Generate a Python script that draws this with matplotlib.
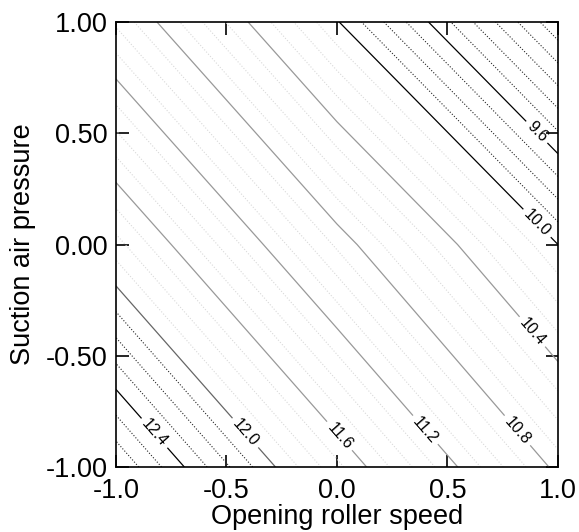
import numpy as np
import matplotlib.pyplot as plt

# response surface at coded levels -1, 0, 1
speed = [-1.0, 0.0, 1.0]
pressure = [-1.0, 0.0, 1.0]
response = [[12.70, 11.73, 10.76],   # pressure = -1
            [11.84, 10.88, 10.00],   # pressure = 0
            [10.98, 10.01, 9.02]]    # pressure = 1

major_levels = [9.6, 10.0, 10.4, 10.8, 11.2, 11.6, 12.0, 12.4]
minor_levels = [9.1, 9.2, 9.3, 9.4, 9.5, 9.7, 9.8, 9.9,
                10.1, 10.2, 10.3, 10.5, 10.6, 10.7, 10.9, 11.0, 11.1,
                11.3, 11.4, 11.5, 11.7, 11.8, 11.9, 12.1, 12.2, 12.3,
                12.5, 12.6]

xticks = [-1.0, -0.5, 0.0, 0.5, 1.0]
yticks = [-1.0, -0.5, 0.0, 0.5, 1.0]

# where the contour labels sit
label_pos = [(0.94, 0.54), (0.92, 0.11), (0.91, -0.37), (0.87, -0.79),
             (0.45, -0.79), (0.07, -0.81), (-0.35, -0.79), (-0.76, -0.79)]

plt.rcParams['font.family'] = ['Liberation Sans', 'DejaVu Sans']

fig = plt.figure(figsize=(5.79, 5.32), dpi=100)
ax = fig.add_axes([0.2003, 0.1222, 0.7634, 0.8364])

X, Y = np.meshgrid(speed, pressure)
Z = np.array(response)

minor_col = ['0.15' if (v < 9.95 or v > 12.05) else '0.85' for v in minor_levels]
ax.contour(X, Y, Z, levels=minor_levels, colors=minor_col,
           linewidths=0.8, linestyles='dotted')

major_col = []
for v in major_levels:
    if v in (9.6, 10.0, 12.4):
        major_col.append('black')
    elif v == 12.0:
        major_col.append('0.4')
    else:
        major_col.append('0.6')
cs = ax.contour(X, Y, Z, levels=major_levels, colors=major_col,
                linewidths=0.9, linestyles='solid')
ax.clabel(cs, fmt='%.1f', fontsize=11.5, manual=label_pos, inline=True,
          inline_spacing=4, colors='black')

ax.set_xlim(-1, 1)
ax.set_ylim(-1, 1)
ax.set_xticks(xticks)
ax.set_xticklabels(['%.1f' % t for t in xticks])
ax.set_yticks(yticks)
ax.set_yticklabels(['%.2f' % t for t in yticks])
ax.tick_params(direction='in', length=9, width=1.2, top=True, right=True,
               labelsize=19.5)
ax.tick_params(axis='x', pad=8)
ax.tick_params(axis='y', pad=6)
for s in ax.spines.values():
    s.set_linewidth(1.2)

ax.set_xlabel('Opening roller speed', fontsize=19.5, labelpad=0)
ax.set_ylabel('Suction air pressure', fontsize=19.5, labelpad=7)

fig.savefig('out.png', dpi=100)
